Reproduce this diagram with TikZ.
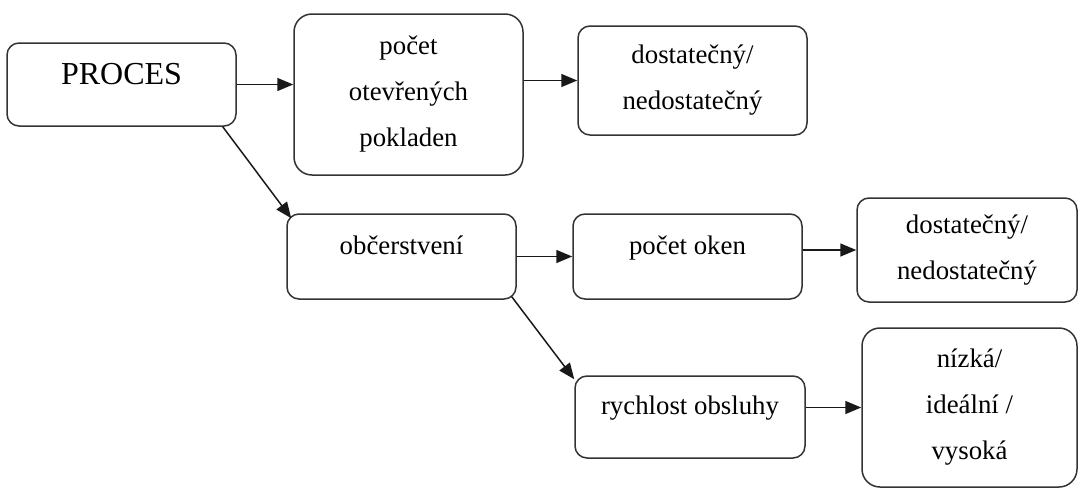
\documentclass[tikz,border=0pt]{standalone}
\usepackage{fontspec}
\setmainfont{Liberation Serif}
\usetikzlibrary{arrows.meta}

\begin{document}
\begin{tikzpicture}[x=1pt, y=-1pt,
    box/.style={draw=black!80, line width=1.5pt,
      rounded corners=12pt,
      inner sep=0pt, align=center,
      font=\fontsize{26.8}{46}\selectfont
    },
    big/.style={rounded corners=18pt},
    upper/.style={text height=20pt, text depth=25pt},
    link/.style={draw=black!90, line width=1.5pt, -{Triangle[length=16pt,width=13pt]}}
  ]
  \useasboundingbox (0,0) rectangle (1081,490);

  % first row
  \node (proces) [box, text height=21pt, text depth=21pt,
    font=\fontsize{32}{38}\selectfont,
    minimum width=229pt, minimum height=83pt] at (121.5,84.5) {PROCES};
  \node (pokladny) [box, big, minimum width=229pt, minimum height=161pt]
    at (408.5,94.5) {počet\\otevřených\\pokladen};
  \node (hodnoceni1) [box, minimum width=229pt, minimum height=109pt]
    at (692.5,80.5) {dostatečný/\\nedostatečný};

  % second row
  \node (obcerstveni) [box, upper, minimum width=229pt, minimum height=85pt]
    at (401.5,256.5) {občerstvení};
  \node (okna) [box, upper, minimum width=229pt, minimum height=85pt]
    at (687.5,256.5) {počet oken};
  \node (hodnoceni2) [box, minimum width=220pt, minimum height=104pt]
    at (967,250) {dostatečný/\\nedostatečný};

  % third row
  \node (obsluha) [box, upper, minimum width=230pt, minimum height=82pt]
    at (690,417) {rychlost obsluhy};
  \node (hodnoceni3) [box, big, minimum width=215pt, minimum height=159pt]
    at (969.5,407.5) {nízká/\\ideální /\\vysoká};

  {
    \draw[link] (proces.east) -- (proces.east -| pokladny.west);
    \draw[link] (pokladny.east |- hodnoceni1.west) -- (hodnoceni1.west);
    \draw[link] ([xshift=-14pt]proces.south east) -- ([xshift=5pt,yshift=-5pt]obcerstveni.north west);

    \draw[link] (obcerstveni.east) -- (obcerstveni.east -| okna.west);
    \draw[link] (okna.east |- hodnoceni2.west) -- (hodnoceni2.west);
    \draw[link] ([xshift=-5pt,yshift=3pt]obcerstveni.south east) -- ([yshift=-4pt]obsluha.north west);

    \draw[link] (obsluha.east |- hodnoceni3.west) -- (hodnoceni3.west);
  };
\end{tikzpicture}
\end{document}
